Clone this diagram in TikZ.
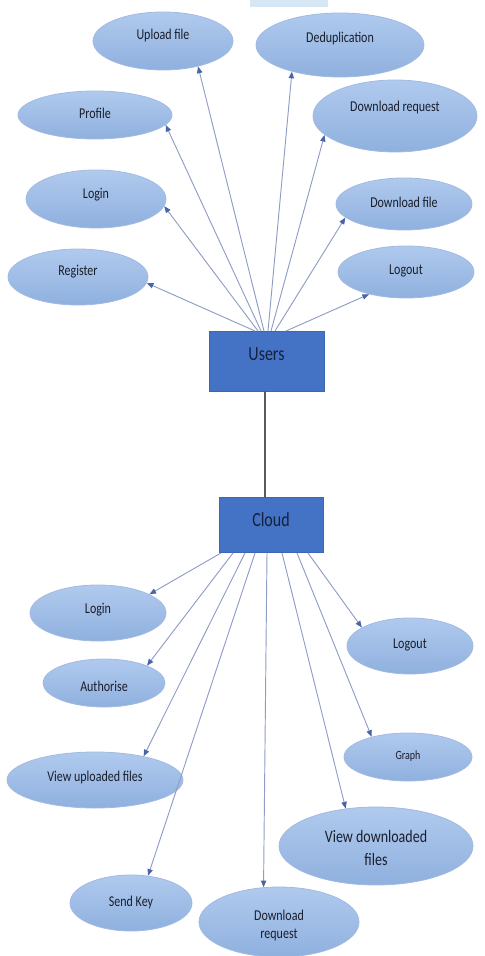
\documentclass[tikz,border=0pt]{standalone}
\usepackage{fontspec}
\setmainfont{Carlito}
\usetikzlibrary{shapes.geometric,arrows.meta}
\definecolor{efillT}{HTML}{B0CAEE}
\definecolor{efillB}{HTML}{8FB0DE}
\definecolor{edraw}{HTML}{A2BAE2}
\definecolor{boxfill}{HTML}{4472C4}
\definecolor{boxdraw}{HTML}{3B66B4}
\definecolor{arr}{HTML}{8E9DC6}
\definecolor{tipc}{HTML}{4A64A8}
\definecolor{txt}{HTML}{1A1E2C}
\definecolor{boxtxt}{HTML}{14213D}
\definecolor{bar}{HTML}{D6E6F2}
\newcommand{\vst}[1]{\scalebox{1}[1.25]{#1}}
\begin{document}
\begin{tikzpicture}[x=0.75pt,y=-0.75pt,
  uc/.style={ellipse, draw=edraw, line width=0.6pt, top color=efillT, bottom color=efillB, inner sep=0pt},
  boxn/.style={rectangle, draw=boxdraw, fill=boxfill, line width=0.6pt, inner sep=0pt},
  tx/.style={inner sep=0pt, text=txt, font=\fontsize{9}{11}\selectfont},
  btx/.style={inner sep=0pt, text=boxtxt, font=\fontsize{12}{14}\selectfont},
  conn/.style={draw=arr, line width=0.7pt, -{Triangle[length=5pt,width=4pt,color=tipc]}},
  link/.style={draw=black!65, line width=0.8pt}]
\useasboundingbox (0,0) rectangle (485,956);
\fill[bar] (250,0) rectangle (328,7);

% top use cases
\node[uc, minimum width=105pt, minimum height=43.5pt] (upl) at (163,41) {};
\node[uc, minimum width=126pt, minimum height=48pt] (ded) at (340,45) {};
\node[uc, minimum width=115.5pt, minimum height=36pt] (prof) at (95,115) {};
\node[uc, minimum width=123pt, minimum height=54pt] (dreq) at (395,116) {};
\node[uc, minimum width=105pt, minimum height=43.5pt] (ulog) at (96,199) {};
\node[uc, minimum width=102pt, minimum height=39pt] (dfile) at (404,204) {};
\node[uc, minimum width=105pt, minimum height=42pt] (reg) at (78,277) {};
\node[uc, minimum width=102pt, minimum height=39pt] (uout) at (406,272) {};

\node[tx] (t1) at (163,36) {\vst{Upload file}};
\node[tx] (t2) at (340,39) {\vst{Deduplication}};
\node[tx] (t3) at (95,113) {\vst{Profile}};
\node[tx] (t4) at (395,108) {\vst{Download request}};
\node[tx] (t5) at (96,195) {\vst{Login}};
\node[tx] (t6) at (404,202) {\vst{Download file}};
\node[tx] (t7) at (78,272) {\vst{Register}};
\node[tx] (t8) at (406,271) {\vst{Logout}};

% boxes
\node[boxn, minimum width=86.25pt, minimum height=45pt] (users) at (266.5,361) {};
\node[btx] (tu) at (266.5,354) {\vst{Users}};
\node[boxn, minimum width=78pt, minimum height=41.25pt] (cloud) at (271,524.5) {};
\node[btx] (tc) at (271,520) {\vst{Cloud}};

\coordinate (lk) at (265,0);
\draw[link] (users.south -| lk) -- (cloud.north -| lk);

% user arrows
\coordinate (u1) at (255,331);
\coordinate (u2) at (258,331);
\coordinate (u3) at (261,331);
\coordinate (u4) at (264,331);
\coordinate (u5) at (268,331);
\coordinate (u6) at (271,331);
\coordinate (u7) at (275,331);
\coordinate (u8) at (286,331);
\draw[conn] (u1) -- (reg.-5);
\draw[conn] (u2) -- (ulog.-6);
\draw[conn] (u3) -- (prof.-8);
\draw[conn] (u4) -- (upl.-36);
\draw[conn] (u5) -- (ded.-151);
\draw[conn] (u6) -- (dreq.-165);
\draw[conn] (u7) -- (dfile.-167);
\draw[conn] (u8) -- (uout.-149);

% bottom use cases
\node[uc, minimum width=102pt, minimum height=42pt] (clog) at (98,613) {};
\node[uc, minimum width=91.5pt, minimum height=36pt] (auth) at (104,683) {};
\node[uc, minimum width=132pt, minimum height=42pt] (vup) at (95,780) {};
\node[uc, minimum width=91.5pt, minimum height=42pt] (skey) at (131,903) {};
\node[uc, minimum width=120pt, minimum height=52.5pt] (creq) at (279,922) {};
\node[uc, minimum width=145.5pt, minimum height=58.5pt] (vdown) at (376,846) {};
\node[uc, minimum width=96pt, minimum height=36pt] (graph) at (408,757) {};
\node[uc, minimum width=94.5pt, minimum height=42pt] (cout) at (410,646) {};

\node[tx] (b1) at (98,610) {\vst{Login}};
\node[tx] (b2) at (104,686) {\vst{Authorise}};
\node[tx] (b3) at (95,777) {\vst{View uploaded files}};
\node[tx] (b4) at (131,902) {\vst{Send Key}};
\node[tx] (b5) at (279,915) {\vst{Download}};
\node[tx] (b5b) at (279,935) {\vst{request}};
\node[tx, font=\fontsize{10.5}{12.5}\selectfont] (b6) at (376,836) {\vst{View downloaded}};
\node[tx, font=\fontsize{10.5}{12.5}\selectfont] (b6b) at (376,859) {\vst{files}};
\node[tx, font=\fontsize{7.5}{9}\selectfont] (b7) at (408,756) {\vst{Graph}};
\node[tx] (b8) at (410,645) {\vst{Logout}};

\coordinate (c1) at (221,553);
\coordinate (c2) at (233,553);
\coordinate (c3) at (245,553);
\coordinate (c4) at (255,553);
\coordinate (c5) at (267,553);
\coordinate (c6) at (282,553);
\coordinate (c7) at (297,553);
\coordinate (c8) at (308,553);
\draw[conn] (c1) -- (clog.20);
\draw[conn] (c2) -- (auth.22);
\draw[conn] (c3) -- (vup.26);
\draw[conn] (c4) -- (skey.58);
\draw[conn] (c5) -- (creq.114);
\draw[conn] (c6) -- (vdown.129);
\draw[conn] (c7) -- (graph.151);
\draw[conn] (c8) -- (cout.159);
\end{tikzpicture}
\end{document}
